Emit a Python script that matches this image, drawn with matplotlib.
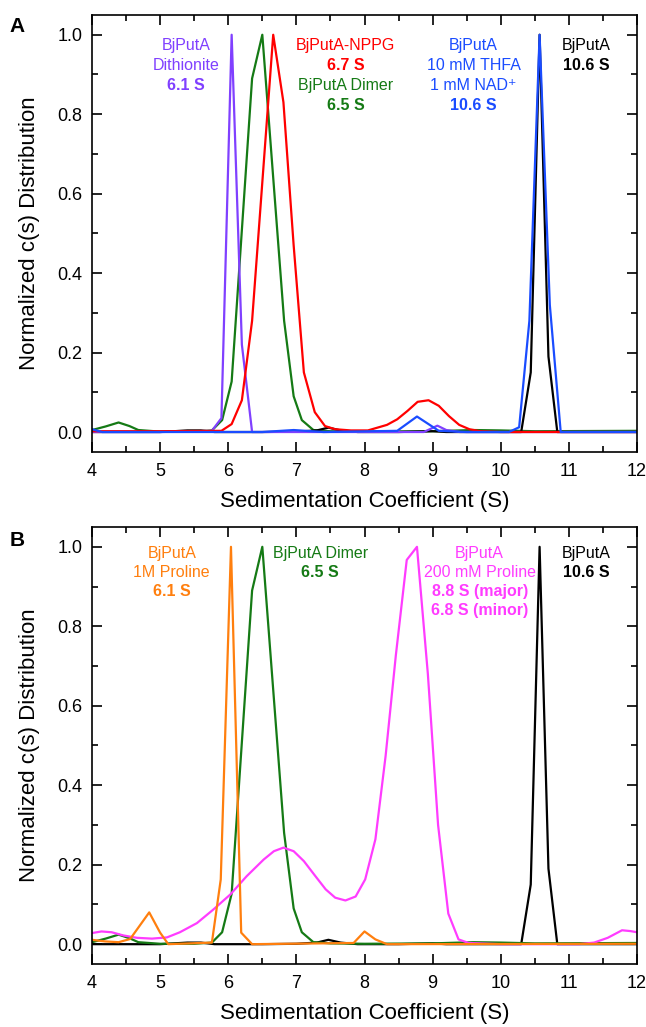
import matplotlib
matplotlib.use("Agg")
import matplotlib.pyplot as plt
from matplotlib.ticker import MultipleLocator

plt.rcParams['font.family'] = ['Liberation Sans', 'DejaVu Sans']

# ---- data ----
# panel A
dith_x = [4.0, 5.0, 5.76, 5.9, 6.05, 6.2, 6.35, 8.0, 8.87, 9.07, 9.2, 9.4, 12.0]
dith_y = [0.0, 0.0, 0.003, 0.035, 1.0, 0.22, 0.0, 0.0, 0.0, 0.016, 0.005, 0.0, 0.0]

nppg_x = [4.0, 5.0, 5.9, 6.05, 6.2, 6.35, 6.66, 6.81, 6.96, 7.11, 7.27, 7.42, 7.57, 7.8,
          8.05, 8.33, 8.48, 8.63, 8.78, 8.94, 9.09, 9.24, 9.39, 9.54, 9.7, 10.0, 12.0]
nppg_y = [0.002, 0.002, 0.003, 0.02, 0.08, 0.28, 1.0, 0.83, 0.47, 0.15, 0.05, 0.015, 0.007, 0.004,
          0.004, 0.018, 0.032, 0.053, 0.076, 0.08, 0.066, 0.04, 0.018, 0.007, 0.002, 0.0, 0.0]

thfa_x = [4.0, 4.15, 5.0, 6.5, 6.96, 7.4, 8.48, 8.77, 9.09, 9.5, 10.12, 10.27, 10.42, 10.57,
          10.72, 10.88, 12.0]
thfa_y = [0.007, 0.0, 0.0, 0.0, 0.005, 0.0, 0.003, 0.039, 0.003, 0.0, 0.0, 0.012, 0.28, 1.0,
          0.32, 0.0, 0.0]

# shared by both panels
dimer_x = [4.0, 4.2, 4.39, 4.55, 4.68, 5.0, 5.5, 5.76, 5.91, 6.05, 6.35, 6.5, 6.82, 6.96, 7.08,
           7.25, 7.5, 8.0, 9.0, 9.6, 10.0, 10.5, 12.0]
dimer_y = [0.005, 0.014, 0.024, 0.015, 0.005, 0.001, 0.001, 0.004, 0.03, 0.127, 0.89, 1.0, 0.28,
           0.09, 0.03, 0.005, 0.002, 0.001, 0.002, 0.005, 0.004, 0.002, 0.003]

wt_x = [4.0, 5.0, 5.4, 5.6, 5.8, 6.5, 7.0, 7.3, 7.47, 7.65, 7.9, 8.5, 9.0, 9.2, 10.0, 10.3,
        10.44, 10.57, 10.7, 10.83, 12.0]
wt_y = [0.0, 0.0, 0.004, 0.004, 0.0, 0.0, 0.001, 0.004, 0.011, 0.004, 0.0, 0.0, 0.002, 0.0, 0.0,
        0.0, 0.15, 1.0, 0.19, 0.0, 0.0]

# panel B
pro1m_x = [4.0, 4.19, 4.39, 4.56, 4.84, 5.0, 5.12, 5.76, 5.89, 6.04, 6.19, 6.35, 7.84, 8.0,
           8.16, 8.33, 12.0]
pro1m_y = [0.011, 0.007, 0.005, 0.013, 0.08, 0.029, 0.0, 0.004, 0.163, 1.0, 0.029, 0.0, 0.003,
           0.032, 0.012, 0.0, 0.001]

pro200_x = [4.0, 4.14, 4.29, 4.46, 4.66, 4.88, 5.1, 5.29, 5.54, 5.78, 6.03, 6.27, 6.52, 6.67,
            6.81, 6.96, 7.11, 7.28, 7.43, 7.57, 7.72, 7.87, 8.01, 8.16, 8.31, 8.46, 8.62, 8.77,
            8.93, 9.08, 9.23, 9.38, 9.53, 10.0, 11.15, 11.37, 11.57, 11.78, 11.9, 12.0]
pro200_y = [0.028, 0.032, 0.03, 0.022, 0.016, 0.014, 0.017, 0.03, 0.053, 0.087, 0.125, 0.171,
            0.213, 0.234, 0.243, 0.234, 0.209, 0.171, 0.138, 0.117, 0.11, 0.12, 0.163, 0.264,
            0.474, 0.727, 0.967, 1.0, 0.68, 0.3, 0.077, 0.012, 0.003, 0.0, 0.0, 0.004, 0.016,
            0.035, 0.033, 0.03]

PURPLE = '#8040ff'
RED = '#ff0000'
GREEN = '#157a15'
BLUE = '#1a4cff'
ORANGE = '#ff7f0e'
MAGENTA = '#ff3cff'

lw = 1.6
fig = plt.figure(figsize=(6.46, 10.27), dpi=100)
axA = fig.add_axes([0.1424, 0.560, 0.8437, 0.4255])
axB = fig.add_axes([0.1424, 0.0613, 0.8437, 0.4256])

axA.plot(dimer_x, dimer_y, color=GREEN, lw=lw)
axA.plot(wt_x, wt_y, color='black', lw=lw)
axA.plot(dith_x, dith_y, color=PURPLE, lw=lw)
axA.plot(nppg_x, nppg_y, color=RED, lw=lw)
axA.plot(thfa_x, thfa_y, color=BLUE, lw=lw)

axB.plot(wt_x, wt_y, color='black', lw=lw)
axB.plot(dimer_x, dimer_y, color=GREEN, lw=lw)
axB.plot(pro200_x, pro200_y, color=MAGENTA, lw=lw)
axB.plot(pro1m_x, pro1m_y, color=ORANGE, lw=lw)

for ax in (axA, axB):
    ax.set_xlim(4, 12)
    ax.set_ylim(-0.05, 1.05)
    ax.xaxis.set_major_locator(MultipleLocator(1))
    ax.xaxis.set_minor_locator(MultipleLocator(0.5))
    ax.yaxis.set_major_locator(MultipleLocator(0.2))
    ax.yaxis.set_minor_locator(MultipleLocator(0.1))
    ax.yaxis.set_major_formatter(plt.FormatStrFormatter('%.1f'))
    ax.tick_params(which='both', direction='in', top=True, right=True, width=1.2, labelsize=13)
    ax.tick_params(which='major', length=7)
    ax.tick_params(which='minor', length=4)
    ax.tick_params(axis='x', pad=8)
    ax.tick_params(axis='y', pad=7)
    for s in ax.spines.values():
        s.set_linewidth(1.2)
    ax.set_xlabel('Sedimentation Coefficient (S)', fontsize=16, labelpad=8)
    ax.set_ylabel('Normalized c(s) Distribution', fontsize=16, labelpad=12)

fs = 11.5

def label(ax, x, ys, lines, color):
    for y, (txt, bold) in zip(ys, lines):
        ax.text(x, y, txt, color=color, fontsize=fs, ha='center', va='center',
                fontweight='bold' if bold else 'normal')

yA = [0.973, 0.922, 0.872, 0.821]
label(axA, 5.38, yA, [('BjPutA', False), ('Dithionite', False), ('6.1 S', True)], PURPLE)
label(axA, 7.72, yA[:2], [('BjPutA-NPPG', False), ('6.7 S', True)], RED)
label(axA, 7.72, yA[2:], [('BjPutA Dimer', False), ('6.5 S', True)], GREEN)
label(axA, 9.6, yA, [('BjPutA', False), ('10 mM THFA', False), ('1 mM NAD\u207a', False),
                     ('10.6 S', True)], BLUE)
label(axA, 11.25, yA[:2], [('BjPutA', False), ('10.6 S', True)], 'black')

yB = [0.984, 0.936, 0.888, 0.840]
label(axB, 5.17, yB, [('BjPutA', False), ('1M Proline', False), ('6.1 S', True)], ORANGE)
label(axB, 7.35, yB[:2], [('BjPutA Dimer', False), ('6.5 S', True)], GREEN)
label(axB, 9.69, yB, [('BjPutA', False), ('200 mM Proline', False), ('8.8 S (major)', True),
                      ('6.8 S (minor)', True)], MAGENTA)
label(axB, 11.25, yB[:2], [('BjPutA', False), ('10.6 S', True)], 'black')

fig.text(17 / 646, 1 - 27 / 1027, 'A', fontsize=15, fontweight='bold', ha='center', va='center')
fig.text(17 / 646, 1 - 540 / 1027, 'B', fontsize=15, fontweight='bold', ha='center', va='center')

fig.savefig('out.png', dpi=100)
